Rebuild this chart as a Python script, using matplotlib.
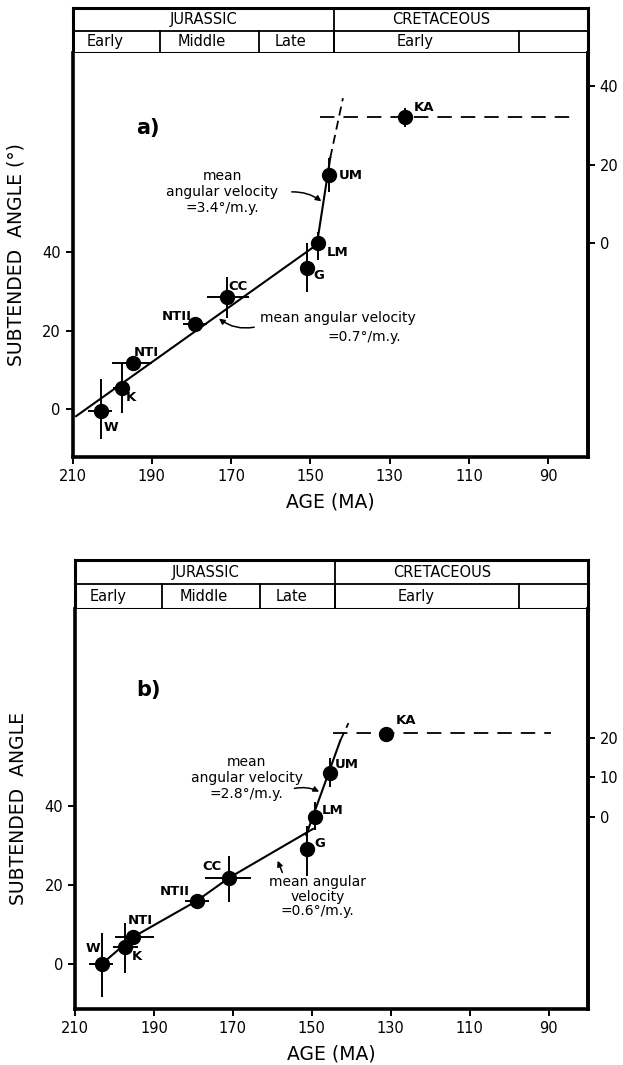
import matplotlib.pyplot as plt

plt.rcParams['font.family'] = 'DejaVu Sans'

# sites, oldest to youngest
sites = ['W', 'K', 'NTI', 'NTII', 'CC', 'G', 'LM', 'UM', 'KA']

# ---- panel a data ----
age_a = [202.7, 197.6, 194.8, 179.1, 171.0, 150.8, 148.0, 145.2, 126.2]
ang_a = [-0.4, 5.4, 11.7, 21.7, 28.5, 35.9, 42.3, 59.6, 74.4]
age_lo_a = [2.6, 2.0, 4.8, 3.0, 5.6, 0, 0, 0, 0]
age_hi_a = [3.3, 2.3, 5.3, 3.1, 5.1, 0, 0, 0, 0]
ang_lo_a = [7.2, 6.4, 0, 0, 5.3, 6.1, 4.3, 4.4, 2.6]
ang_hi_a = [8.0, 6.3, 0, 0, 5.1, 6.4, 2.8, 4.3, 2.3]
fit1_age_a = [209.1, 149.2]
fit1_ang_a = [-1.8, 41.3]
fit2_age_a = [148.2, 145.0]
fit2_ang_a = [43.1, 64.0]
ext_age_a = [145.0, 141.8]
ext_ang_a = [64.0, 79.2]
ka_age_a = [147.5, 84.5]
ka_ang_a = [74.4, 74.4]

# ---- panel b data ----
age_b = [203.2, 197.3, 195.3, 179.1, 171.0, 151.3, 149.2, 145.4, 131.3]
ang_b = [0.0, 4.3, 6.8, 16.0, 21.8, 29.1, 37.2, 48.4, 58.2]
age_lo_b = [2.8, 3.2, 5.3, 3.0, 5.6, 0, 0, 0, 0]
age_hi_b = [3.3, 3.1, 4.6, 3.1, 6.1, 0, 0, 0, 0]
ang_lo_b = [8.4, 6.6, 0, 0, 6.1, 6.8, 3.3, 3.6, 2.0]
ang_hi_b = [7.8, 6.1, 0, 0, 5.5, 5.8, 3.8, 3.8, 1.8]
fit1_age_b = [203.2, 195.3, 179.1, 171.0, 149.7]
fit1_ang_b = [0.0, 6.8, 16.0, 21.8, 34.2]
fit2_age_b = [151.4, 142.8]
fit2_ang_b = [32.7, 56.5]
ext_age_b = [142.8, 140.7]
ext_ang_b = [56.5, 61.0]
ka_age_b = [144.6, 89.3]
ka_ang_b = [58.4, 58.4]

# time scale header
period_names = ['JURASSIC', 'CRETACEOUS']
period_edges = [210, 144, 80]
period_label_x = [177, 117]
epoch_names = ['Early', 'Middle', 'Late', 'Early', '']
epoch_edges = [210, 188, 163, 144, 97.5, 80]
epoch_label_x = [201.7, 177.4, 155.1, 123.5, 89]

age_ticks = [210, 190, 170, 150, 130, 110, 90]
ang_ticks = [0, 20, 40]

# label offsets (points) for site names
offs_a = [(7, -12), (6.5, -7), (10, 8), (-13, 5), (8, 8), (8.6, -5), (14, -7), (15, 0), (14, 6.5)]
offs_b = [(-6.5, 11), (8.6, -7), (5, 12), (-16, 6.5), (-12, 8), (9.4, 4.3), (12.7, 5), (12, 6), (14.4, 9.6)]

fig = plt.figure(figsize=(6.23, 10.65), dpi=100)


def header(rect):
    th = fig.add_axes(rect)
    th.set_xlim(210, 80)
    th.set_ylim(0, 2)
    th.set_xticks([])
    th.set_yticks([])
    for s in th.spines.values():
        s.set_linewidth(2.2)
    th.axhline(1, color='black', lw=1.3)
    th.plot([period_edges[1], period_edges[1]], [0, 2], color='black', lw=1.3)
    for e in epoch_edges[1:-1]:
        th.plot([e, e], [0, 1], color='black', lw=1.3)
    for name, x in zip(period_names, period_label_x):
        th.text(x, 1.5, name, ha='center', va='center', fontsize=10.5)
    for name, x in zip(epoch_names, epoch_label_x):
        th.text(x, 0.5, name, ha='center', va='center', fontsize=10.5)


def panel(rect, ylim, ages, angs, alo, ahi, glo, ghi, offs, right_lim, right_ticks, ylabel):
    ax = fig.add_axes(rect)
    ax.set_xlim(210, 80)
    ax.set_ylim(*ylim)
    ax.errorbar(ages, angs, xerr=[alo, ahi], yerr=[glo, ghi], fmt='o', color='black',
                ms=10, elinewidth=1.4, capsize=0, zorder=3)
    for s, x, y, o in zip(sites, ages, angs, offs):
        ax.annotate(s, (x, y), xytext=o, textcoords='offset points', ha='center', va='center',
                    fontsize=9.5, fontweight='bold')
    ax.set_xticks(age_ticks)
    ax.set_yticks(ang_ticks)
    ax.tick_params(direction='out', length=5, width=1.4, labelsize=10.5)
    ax.spines['top'].set_visible(False)
    for k in ['left', 'bottom', 'right']:
        ax.spines[k].set_linewidth(2.6)
    ax.set_xlabel('AGE (MA)', fontsize=13.5, labelpad=6)
    ax.set_ylabel(ylabel, fontsize=13.5, labelpad=12)
    ax2 = ax.twinx()
    ax2.set_ylim(*right_lim)
    ax2.set_yticks(right_ticks)
    ax2.tick_params(direction='out', length=5, width=1.4, labelsize=10.5)
    for s in ax2.spines.values():
        s.set_visible(False)
    ax2.spines['right'].set_visible(True)
    ax2.spines['right'].set_linewidth(2.6)
    return ax


# ---------------- panel a ----------------
header([0.1164, 0.9502, 0.8274, 0.0423])
ax = panel([0.1164, 0.5709, 0.8274, 0.3793], (-12.2, 90.7), age_a, ang_a,
           age_lo_a, age_hi_a, ang_lo_a, ang_hi_a, offs_a, (-54.5, 48.4), [0, 20, 40],
           'SUBTENDED  ANGLE (°)')
ax.plot(fit1_age_a, fit1_ang_a, color='black', lw=1.5)
ax.plot(fit2_age_a, fit2_ang_a, color='black', lw=1.5)
ax.plot(ext_age_a, ext_ang_a, color='black', lw=1.3, ls=(0, (5, 3)))
ax.plot(ka_age_a, ka_ang_a, color='black', lw=1.3, ls=(0, (8, 5)))
ax.text(191, 71.6, 'a)', fontsize=15, fontweight='bold', ha='center', va='center')
ax.text(172.3, 55.3, 'mean\nangular velocity\n=3.4°/m.y.', ha='center', va='center',
        fontsize=10, linespacing=1.2)
ax.annotate('', xy=(146.7, 52.5), xytext=(155.4, 55.3),
            arrowprops=dict(arrowstyle='-|>', color='black', lw=1.1, mutation_scale=8,
                            connectionstyle='arc3,rad=-0.2'))
ax.text(143.2, 23.2, 'mean angular velocity', ha='center', va='center', fontsize=10)
ax.text(136.3, 18.3, '=0.7°/m.y.', ha='center', va='center', fontsize=10)
ax.annotate('', xy=(173.6, 23.5), xytext=(163.5, 21.0),
            arrowprops=dict(arrowstyle='-|>', color='black', lw=1.1, mutation_scale=8,
                            connectionstyle='arc3,rad=-0.25'))

# ---------------- panel b ----------------
header([0.1204, 0.4282, 0.8234, 0.046])
bx = panel([0.1204, 0.0526, 0.8234, 0.3756], (-11.4, 89.9), age_b, ang_b,
           age_lo_b, age_hi_b, ang_lo_b, ang_hi_b, offs_b, (-48.7, 52.6), [0, 10, 20],
           'SUBTENDED  ANGLE')
bx.plot(fit1_age_b, fit1_ang_b, color='black', lw=1.5)
bx.plot(fit2_age_b, fit2_ang_b, color='black', lw=1.5)
bx.plot(ext_age_b, ext_ang_b, color='black', lw=1.3, ls=(0, (5, 3)))
bx.plot(ka_age_b, ka_ang_b, color='black', lw=1.3, ls=(0, (8, 5)))
bx.text(191.5, 69.4, 'b)', fontsize=15, fontweight='bold', ha='center', va='center')
bx.text(166.5, 47.1, 'mean\nangular velocity\n=2.8°/m.y.', ha='center', va='center',
        fontsize=10, linespacing=1.2)
bx.annotate('', xy=(147.5, 43.3), xytext=(155.1, 44.3),
            arrowprops=dict(arrowstyle='-|>', color='black', lw=1.1, mutation_scale=8,
                            connectionstyle='arc3,rad=-0.2'))
bx.text(148.5, 17.0, 'mean angular\nvelocity\n=0.6°/m.y.', ha='center', va='center',
        fontsize=10, linespacing=1.05)
bx.annotate('', xy=(158.9, 26.8), xytext=(157.2, 22.5),
            arrowprops=dict(arrowstyle='-|>', color='black', lw=1.1, mutation_scale=8))

fig.savefig('out.png', dpi=100)
